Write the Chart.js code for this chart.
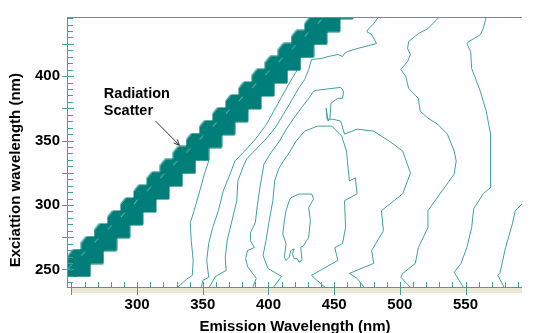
<!DOCTYPE html>
<html>
<head>
<meta charset="utf-8">
<script src="https://cdn.jsdelivr.net/npm/chart.js@4.4.1/dist/chart.umd.min.js"></script>
<style>
  html, body { margin: 0; padding: 0; background: #fff; }
</style>
</head>
<body>
<canvas id="eem" width="536" height="333"></canvas>
<script>
// tick labels
var xTickLabels = [300, 350, 400, 450, 500, 550];
var yTickLabels = [250, 300, 350, 400];

// radiation scatter band: excitation of each step and emission of its two blocks
var scatterEx      = [230, 240, 250, 260, 270, 280, 290, 300, 310, 320, 330, 340, 350, 360, 370, 380, 390, 400, 410, 420, 430, 440, 450];
var scatterEmLeft  = [226, 236, 246, 256, 266, 276, 286, 296, 306, 316, 326, 336, 346, 356, 366, 376, 386, 396, 406, 416, 426, 436, 446];
var scatterEmRight = [236, 246, 256, 266, 276, 286, 296, 306, 316, 326, 336, 346, 356, 366, 376, 386, 396, 406, 416, 426, 436, 446, 456];

// contour lines as [emission, excitation] pairs (nm)
var contour1 = [[330.1,235.4],[337.5,242.3],[342.0,245.4],[342.7,257.0],[341.2,272.4],[340.5,286.3],[343.4,295.6],[347.1,308.7],[350.8,322.6],[354.5,334.2],[352,345]];
var contour2 = [[348.6,235.4],[350.1,241.5],[354.5,243.9],[353.0,257.0],[354.5,270.1],[357.5,282.5],[361.9,295.6],[365.6,311.0],[370.8,324.1],[374.5,334.2],[383.3,343.4],[390.7,351.9],[398.1,362.0],[404.0,372.8],[409.9,383.6],[415.8,394.4],[420.3,402.1],[423.2,406.7],[418,412]];
var contour3 = [[354.5,235.4],[359.7,244.6],[367.8,249.3],[367.1,259.3],[368.6,272.4],[372.2,287.9],[375.9,303.3],[376.7,318.7],[380.4,328.8],[383.3,335.7],[390.7,343.4],[398.1,351.2],[405.5,360.4],[411.4,370.5],[417.3,380.5],[422.5,389.8],[427.6,397.5],[430.6,405.2],[432.8,412.9],[440.2,413.7],[445.4,415.2],[452.8,416.8],[456.4,415.2],[457.9,417.6],[460.1,419.1],[467.5,421.4],[482.3,425.3],[478.6,432.2],[474.9,434.5],[476.4,436.9],[480.1,440.7],[483.8,446.1]];
var contour4 = [[387.8,235.4],[390.7,243.1],[384.1,252.3],[382.6,258.5],[384.1,264.7],[389.2,267.0],[386.3,272.4],[386.3,278.6],[390.0,286.3],[391.5,299.4],[393.7,314.9],[396.6,331.9],[401.8,340.4],[408.4,349.6],[413.6,358.9],[418.8,366.6],[425.4,375.9],[431.3,383.6],[434.3,388.2],[436.5,389.0],[455.0,391.3],[457.2,388.2],[456.4,382.8],[452.8,382.8],[447.6,379.0],[446.8,367.4],[445.4,365.1],[443.9,375.1],[444.6,366.6],[449.1,366.6],[455.0,365.1],[457.9,355.0],[467.5,358.9],[480.1,357.3],[491.9,349.6],[502.2,341.9],[506.7,328.8],[508.1,324.9],[502.2,308.7],[486.0,295.6],[487.5,280.1],[478.6,264.7],[480.1,254.7],[461.6,246.9],[467.5,243.1],[473.4,235.4]];
var contour5 = [[403.3,235.4],[409.9,244.6],[399.6,250.8],[395.9,260.8],[398.1,272.4],[400.3,286.3],[403.3,303.3],[404.7,318.7],[407.7,328.0],[411.4,334.2],[416.6,341.9],[421.0,349.6],[427.6,357.3],[437.2,361.2],[448.3,361.2],[455.7,353.5],[459.4,341.9],[460.1,334.2],[461.6,318.7],[466.1,321.1],[467.5,308.7],[457.9,303.3],[458.7,282.5],[456.4,270.1],[450.5,267.0],[452.8,257.0],[432.8,245.4],[439.5,239.2],[443.9,235.4]];
var contourPeak = [[417.1,305.8],[423.2,308.5],[433.0,308.5],[434.3,304.6],[430.6,298.1],[431.9,287.9],[430.6,275.0],[426.9,268.6],[424.5,267.2],[425.6,257.0],[423.2,255.7],[422.0,258.3],[419.5,258.3],[418.3,262.2],[419.5,266.0],[417.1,264.7],[415.8,259.5],[413.4,257.0],[412.1,259.5],[413.4,269.9],[410.9,277.6],[412.1,287.9],[413.4,295.6],[415.8,303.3],[417.1,305.8]];
var contour7 = [[511.8,235.4],[508.1,236.1],[500.8,243.9],[502.2,246.9],[511.8,254.7],[514.1,267.0],[521.4,282.5],[521.4,295.6],[541.4,324.1],[542.9,334.2],[541.4,341.9],[536.2,355.0],[528.8,362.7],[521.4,367.4],[515.5,372.8],[514.1,382.8],[506.7,390.5],[504.5,399.8],[500.8,405.2],[505.9,411.4],[508.1,416.8],[505.9,421.4],[506.7,426.8],[514.1,433.0],[521.4,436.9],[530.3,446.1]];
var contour8 = [[548.8,235.4],[541.4,247.7],[546.6,254.7],[551.0,267.0],[554.7,282.5],[556.2,297.1],[563.5,308.7],[568.7,313.3],[569.4,334.2],[568.7,355.0],[565.8,372.8],[563.5,380.5],[561.3,388.2],[558.4,395.9],[554.7,406.0],[553.9,419.1],[551.0,425.3],[552.5,426.8],[561.3,432.2],[563.5,436.9],[565.8,446.1]];
var contour9 = [[579.8,235.4],[574.6,245.4],[576.1,246.9],[578.3,257.0],[580.5,267.0],[585.7,285.5],[587.9,295.6],[593.1,301.0]];

var contours = [contour1, contour2, contour3, contour4, contour5, contourPeak, contour7, contour8, contour9];

// annotation anchors (nm)
var noteText = ['Radiation', 'Scatter'];
var noteAt = [274.7, 382.8];
var arrowFrom = [314.1, 365.1];
var arrowTo = [332.1, 346.5];
var yTitleCentre = 327;

var teal = '#007e7a';
var lineTeal = '#3ea19c';
var axisTeal = '#45a09b';
var boldFont = { family: '"Liberation Sans", Arial, sans-serif', size: 15, weight: 'bold' };

// one block of the scatter band
function makeBlock() {
  var c = document.createElement('canvas');
  c.width = 24; c.height = 16;
  var g = c.getContext('2d');
  g.fillStyle = teal;
  g.strokeStyle = teal;
  g.lineWidth = 3;
  g.lineJoin = 'round';
  g.beginPath();
  g.moveTo(6, 2);
  g.lineTo(22, 2);
  g.lineTo(22, 14);
  g.lineTo(2, 14);
  g.lineTo(2, 7);
  g.closePath();
  g.fill();
  g.stroke();
  g.strokeStyle = 'rgba(255,255,255,0.5)';
  g.lineWidth = 1;
  g.beginPath();
  g.moveTo(1, 7); g.lineTo(6, 1);
  g.stroke();
  return c;
}

var bandPoints = [];
scatterEx.forEach(function(ex, i) {
  bandPoints.push({x: scatterEmLeft[i], y: ex});
  bandPoints.push({x: scatterEmRight[i], y: ex});
});

var datasets = [{
  label: 'scatter',
  data: bandPoints,
  showLine: false,
  pointStyle: makeBlock(),
  pointRadius: 13,
  pointHoverRadius: 13,
  order: 0,
  clip: 0
}];
contours.forEach(function(c, i) {
  datasets.push({
    label: 'c' + i,
    data: c.map(function(p) { return {x: p[0], y: p[1]}; }),
    showLine: true,
    borderColor: lineTeal,
    borderWidth: 1,
    pointRadius: 0,
    tension: 0,
    order: 1,
    clip: 0
  });
});

var frame = {
  id: 'frame',
  afterDatasetsDraw: function(chart) {
    var ctx = chart.ctx, a = chart.chartArea;
    var xs = chart.scales.x, ys = chart.scales.y;
    ctx.save();
    ctx.fillStyle = '#ebe8d6';
    ctx.fillRect(a.left + 3, a.bottom, a.right - a.left - 3, 5);
    ctx.strokeStyle = axisTeal;
    ctx.lineWidth = 1;
    ctx.beginPath();
    ctx.moveTo(a.left - 0.5, a.top + 0.5); ctx.lineTo(a.right, a.top + 0.5);
    ctx.moveTo(a.left - 0.5, a.top); ctx.lineTo(a.left - 0.5, a.bottom);
    ctx.moveTo(a.left - 1, a.bottom - 0.5); ctx.lineTo(a.right, a.bottom - 0.5);
    for (var v = 240; v <= 445; v += 5) {
      var py = Math.round(ys.getPixelForValue(v)) + 0.5;
      var major = v % 25 === 0;
      ctx.moveTo(major ? a.left - 6 : a.left, py);
      ctx.lineTo(a.left + (major ? 6 : 5), py);
    }
    for (var u = 250; u <= 590; u += 10) {
      var px = Math.round(xs.getPixelForValue(u)) + 0.5;
      ctx.moveTo(px, a.bottom - 6);
      ctx.lineTo(px, u % 50 === 0 ? a.bottom + 7 : a.bottom);
    }
    ctx.stroke();

    // y axis title
    ctx.fillStyle = '#000';
    ctx.font = 'bold 15px "Liberation Sans", Arial, sans-serif';
    ctx.save();
    ctx.translate(16, ys.getPixelForValue(yTitleCentre));
    ctx.rotate(-Math.PI / 2);
    ctx.textAlign = 'center';
    ctx.textBaseline = 'middle';
    ctx.fillText('Exciattion wavelength (nm)', 0, 0);
    ctx.restore();

    // annotation
    var tx = xs.getPixelForValue(noteAt[0]), ty = ys.getPixelForValue(noteAt[1]);
    ctx.font = 'bold 14.5px "Liberation Sans", Arial, sans-serif';
    ctx.textAlign = 'left';
    ctx.textBaseline = 'alphabetic';
    ctx.fillText(noteText[0], tx, ty);
    ctx.fillText(noteText[1], tx, ty + 17);
    var x0 = xs.getPixelForValue(arrowFrom[0]), y0 = ys.getPixelForValue(arrowFrom[1]);
    var x1 = xs.getPixelForValue(arrowTo[0]), y1 = ys.getPixelForValue(arrowTo[1]);
    var ang = Math.atan2(y1 - y0, x1 - x0);
    ctx.strokeStyle = '#333';
    ctx.lineWidth = 1;
    ctx.beginPath();
    ctx.moveTo(x0, y0); ctx.lineTo(x1, y1);
    ctx.moveTo(x1 - 6 * Math.cos(ang - 0.45), y1 - 6 * Math.sin(ang - 0.45));
    ctx.lineTo(x1, y1);
    ctx.lineTo(x1 - 6 * Math.cos(ang + 0.45), y1 - 6 * Math.sin(ang + 0.45));
    ctx.stroke();
    ctx.restore();
  }
};

new Chart(document.getElementById('eem'), {
  type: 'scatter',
  data: { datasets: datasets },
  options: {
    responsive: false,
    devicePixelRatio: 1,
    animation: false,
    events: [],
    layout: { padding: { top: 15, right: 0, left: 0, bottom: 0 } },
    plugins: { legend: { display: false }, tooltip: { enabled: false } },
    scales: {
      x: {
        type: 'linear', min: 247.4, max: 593,
        grid: { display: false, drawTicks: false },
        border: { display: false },
        ticks: { padding: 8, color: '#000', font: boldFont, autoSkip: false, maxRotation: 0 },
        afterBuildTicks: function(s) { s.ticks = xTickLabels.map(function(v) { return {value: v}; }); },
        afterFit: function(s) { s.height = 45; },
        title: { display: true, text: 'Emission Wavelength (nm)', color: '#000', font: boldFont, padding: { top: 0, bottom: -3 } }
      },
      y: {
        type: 'linear', min: 235.6, max: 445.9,
        grid: { display: false, drawTicks: false },
        border: { display: false },
        ticks: { padding: 8, color: '#000', font: boldFont, autoSkip: false },
        afterBuildTicks: function(s) { s.ticks = yTickLabels.map(function(v) { return {value: v}; }); },
        afterFit: function(s) { s.width = 68; }
      }
    }
  },
  plugins: [frame]
});
</script>
</body>
</html>
